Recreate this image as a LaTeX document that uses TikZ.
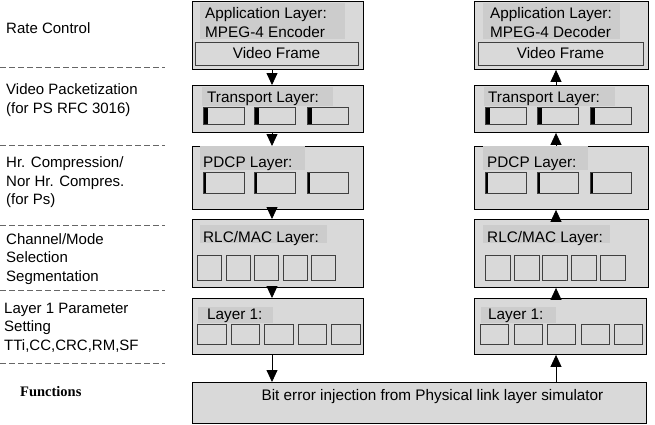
\documentclass[tikz,border=0pt]{standalone}
\usepackage{fontspec}
\setmainfont{Liberation Sans}
\newfontfamily\funcfont{Liberation Serif}
\usetikzlibrary{arrows.meta}

\definecolor{boxgray}{gray}{0.85}
\definecolor{patchgray}{gray}{0.80}
\definecolor{cellline}{gray}{0.25}
\definecolor{sepgray}{gray}{0.40}

\tikzset{
  layerbox/.style={draw=black, fill=boxgray, line width=0.9pt, anchor=north west, inner sep=0pt},
  textpatch/.style={fill=patchgray, anchor=north west, inner sep=0pt},
  cellbox/.style={draw=cellline, fill=boxgray, line width=0.7pt, anchor=north west, inner sep=0pt},
  markcell/.style={cellbox, path picture={\fill[black] (path picture bounding box.north west) rectangle ([xshift=#1]path picture bounding box.south west);}},
  boxtext/.style={anchor=base west, inner sep=0pt, font=\fontsize{15.3}{18.5}\selectfont},
  sidetext/.style={anchor=west, inner sep=0pt, align=left, font=\fontsize{15}{18.5}\selectfont},
  sepline/.style={draw=sepgray, line width=0.7pt, dash pattern=on 6pt off 3pt},
  flow/.style={-{Triangle[length=12pt,width=11pt]}, line width=0.8pt}
}

\begin{document}
\begin{tikzpicture}[x=1pt,y=-1pt]
\useasboundingbox (0,0) rectangle (655,424);

% functions column
\node[sidetext] (rate) at (6,28) {Rate Control};
\node[sidetext] (pack) at (6,100) {Video Packetization\\(for PS RFC 3016)};
\node[sidetext] (comp) at (6,182.5) {Hr. Compression/\\Nor Hr. Compres.\\(for Ps)};
\node[sidetext] (chan) at (6,259) {Channel/Mode\\Selection\\Segmentation};
\node[sidetext] (param) at (4,327.5) {Layer 1 Parameter\\Setting\\TTi,CC,CRC,RM,SF};
\node[sidetext, font=\funcfont\bfseries\fontsize{14.5}{18}\selectfont] (func) at (20,392) {Functions};
\foreach \y in {67,145,225,290,363}
  \draw[sepline] (0,\y) -- (165,\y);

% encoder side
\node[layerbox, minimum width=171pt, minimum height=68pt] (appE) at (192,1) {};
\node[textpatch, minimum width=145pt, minimum height=36pt] (appEp) at (200,3) {};
\node[boxtext] (appEt) at (205,18.5) {Application Layer:};
\node[boxtext] (appEs) at (205,37.5) {MPEG-4 Encoder};
\node[cellbox, anchor=center, minimum width=163pt, minimum height=23pt, font=\fontsize{15.3}{18}\selectfont] (vfE) at (276.5,53.5) {Video Frame};

\node[layerbox, minimum width=171pt, minimum height=47pt] (tpE) at (192,85) {};
\node[textpatch, minimum width=131pt, minimum height=19pt] (tpEp) at (202,87) {};
\node[boxtext] (tpEt) at (207,102.5) {Transport Layer:};
\foreach \x [count=\i] in {203,254,307}
  \node[markcell=5pt, minimum width=41pt, minimum height=17pt] (tpEc\i) at (\x,107) {};

\node[layerbox, minimum width=171pt, minimum height=63pt] (pdcpE) at (192,146) {};
\node[textpatch, minimum width=105pt, minimum height=24pt] (pdcpEp) at (200,146) {};
\node[boxtext] (pdcpEt) at (203,167.5) {PDCP Layer:};
\foreach \x [count=\i] in {203,254,307}
  \node[markcell=2.5pt, minimum width=41pt, minimum height=21pt] (pdcpEc\i) at (\x,172) {};

\node[layerbox, minimum width=171pt, minimum height=68pt] (rlcE) at (192,219) {};
\node[textpatch, minimum width=127pt, minimum height=18pt] (rlcEp) at (200,225) {};
\node[boxtext] (rlcEt) at (203,242.5) {RLC/MAC Layer:};
\foreach \x [count=\i] in {197,225.5,254,282.5,311}
  \node[cellbox, minimum width=24pt, minimum height=25pt] (rlcEc\i) at (\x,255) {};

\node[layerbox, minimum width=171pt, minimum height=56pt] (phyE) at (192,298) {};
\node[textpatch, minimum width=75pt, minimum height=16pt] (phyEp) at (198,307) {};
\node[boxtext] (phyEt) at (207,319.5) {Layer 1:};
\foreach \x [count=\i] in {197,230.5,264,297.5,331}
  \node[cellbox, minimum width=28.5pt, minimum height=20pt] (phyEc\i) at (\x,324) {};

% decoder side
\node[layerbox, minimum width=174pt, minimum height=68pt] (appD) at (474,1) {};
\node[textpatch, minimum width=137pt, minimum height=36pt] (appDp) at (483,3) {};
\node[boxtext] (appDt) at (490,18.5) {Application Layer:};
\node[boxtext] (appDs) at (490,37.5) {MPEG-4 Decoder};
\node[cellbox, anchor=center, minimum width=165pt, minimum height=23pt, font=\fontsize{15.3}{18}\selectfont] (vfD) at (560.5,53.5) {Video Frame};

\node[layerbox, minimum width=174pt, minimum height=47pt] (tpD) at (474,85) {};
\node[textpatch, minimum width=131pt, minimum height=19pt] (tpDp) at (484,87) {};
\node[boxtext] (tpDt) at (488,102.5) {Transport Layer:};
\foreach \x [count=\i] in {485,537,590}
  \node[markcell=5pt, minimum width=41pt, minimum height=17pt] (tpDc\i) at (\x,107) {};

\node[layerbox, minimum width=174pt, minimum height=63pt] (pdcpD) at (474,146) {};
\node[textpatch, minimum width=105pt, minimum height=24pt] (pdcpDp) at (483,146) {};
\node[boxtext] (pdcpDt) at (487,167.5) {PDCP Layer:};
\foreach \x [count=\i] in {485,537,590}
  \node[markcell=2.5pt, minimum width=41pt, minimum height=21pt] (pdcpDc\i) at (\x,172) {};

\node[layerbox, minimum width=174pt, minimum height=68pt] (rlcD) at (474,219) {};
\node[textpatch, minimum width=127pt, minimum height=18pt] (rlcDp) at (483,225) {};
\node[boxtext] (rlcDt) at (487,242.5) {RLC/MAC Layer:};
\foreach \x [count=\i] in {485,513.7,542.4,571.1,599.8}
  \node[cellbox, minimum width=25pt, minimum height=25pt] (rlcDc\i) at (\x,255) {};

\node[layerbox, minimum width=172pt, minimum height=56pt] (phyD) at (474,298) {};
\node[textpatch, minimum width=75pt, minimum height=16pt] (phyDp) at (481,307) {};
\node[boxtext] (phyDt) at (488,319.5) {Layer 1:};
\foreach \x [count=\i] in {480,513.5,547,580.5,614}
  \node[cellbox, minimum width=28pt, minimum height=20pt] (phyDc\i) at (\x,324) {};

% error simulator
\node[layerbox, minimum width=454pt, minimum height=41pt] (errsim) at (192,382) {};
\node[inner sep=0pt, font=\fontsize{15.3}{18}\selectfont] (errtext) at (432.5,397) {Bit error injection from Physical link layer simulator};

% connectors
\coordinate (colE) at (272,0);
\coordinate (colD) at (556,0);
\draw[flow] (appE.south -| colE) -- (tpE.north -| colE);
\draw[flow] (tpE.south -| colE) -- (pdcpE.north -| colE);
\draw[flow] (pdcpE.south -| colE) -- (rlcE.north -| colE);
\draw[flow] (rlcE.south -| colE) -- (phyE.north -| colE);
\draw[flow] (phyE.south -| colE) -- (errsim.north -| colE);
\draw[flow] (errsim.north -| colD) -- (phyD.south -| colD);
\draw[flow] (phyD.north -| colD) -- (rlcD.south -| colD);
\draw[flow] (rlcD.north -| colD) -- (pdcpD.south -| colD);
\draw[flow] (pdcpD.north -| colD) -- (tpD.south -| colD);
\draw[flow] (tpD.north -| colD) -- (appD.south -| colD);
\end{tikzpicture}
\end{document}
